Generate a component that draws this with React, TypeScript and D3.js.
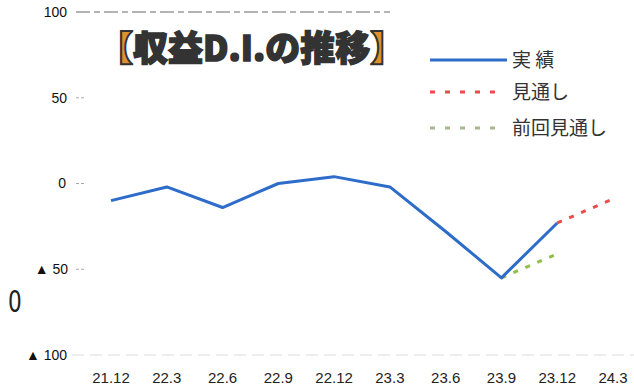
import React from "react";
import * as d3 from "d3";

const categories = ["21.12", "22.3", "22.6", "22.9", "22.12", "23.3", "23.6", "23.9", "23.12", "24.3"];
const actual = [-10, -2, -14, 0, 4, -2, -28, -55, -23];
const forecastCats = ["23.12", "24.3"];
const forecast = [-23, -9];
const prevForecastCats = ["23.9", "23.12"];
const prevForecast = [-55, -41];
const yTicks = [100, 50, 0, -50, -100];
const yTickLabels = ["100", "50", "0", "▲ 50", "▲ 100"];
const legendLabels = ["実 績", "見通し", "前回見通し"];
const title = "収益D.I.の推移";

const W = 634;
const H = 390;

export default function App() {
  const x = d3.scalePoint<string>().domain(categories).range([111, 613]);
  const y = d3.scaleLinear().domain([-100, 100]).range([355, 12]);
  const line = d3
    .line<[string, number]>()
    .x((d) => x(d[0]) as number)
    .y((d) => y(d[1]));

  const actualPts = actual.map((v, i) => [categories[i], v] as [string, number]);
  const fcPts = forecast.map((v, i) => [forecastCats[i], v] as [string, number]);
  const pfPts = prevForecast.map((v, i) => [prevForecastCats[i], v] as [string, number]);

  const labelRight = [67, 67, 66, 68, 67];
  const jp = "'Noto Sans CJK JP', 'Liberation Sans', sans-serif";
  const sans = "'Liberation Sans', Arial, sans-serif";

  return (
    <svg width={W} height={H} style={{ position: "absolute", left: 0, top: 0, background: "#fff" }}>
      {/* gridlines */}
      <line x1={76} x2={390} y1={y(100)} y2={y(100)} stroke="#666" strokeWidth={1} strokeDasharray="14 4 6 4" />
      <line x1={72} x2={634} y1={y(-100)} y2={y(-100)} stroke="#ddd" strokeWidth={1} strokeDasharray="12 6" />
      {[50, 0, -50].map((t) => (
        <line key={t} x1={76} x2={86} y1={y(t)} y2={y(t)} stroke="#aaa" strokeWidth={1} strokeDasharray="3 2" />
      ))}
      {/* y labels */}
      {yTicks.map((t, i) => (
        <text
          key={t}
          x={labelRight[i]}
          y={y(t)}
          dy="0.35em"
          textAnchor="end"
          fontFamily={sans}
          fontSize={14}
          fill="#111"
        >
          {yTickLabels[i]}
        </text>
      ))}
      {/* stray large zero */}
      <text x={8} y={312} fontFamily="'DejaVu Sans Condensed', 'Liberation Sans Narrow', sans-serif" fontSize={30} fill="#222" transform="scale(0.8,1)" style={{ transformOrigin: "8px 312px" }}>
        0
      </text>
      {/* x labels */}
      {categories.map((c) => (
        <text
          key={c}
          x={x(c) as number}
          y={378}
          dy="0.35em"
          textAnchor="middle"
          fontFamily={sans}
          fontSize={15}
          fill="#222"
        >
          {c}
        </text>
      ))}
      {/* lines */}
      <path d={line(pfPts) ?? ""} fill="none" stroke="#8fbf4a" strokeWidth={3} strokeDasharray="5 8" />
      <path d={line(fcPts) ?? ""} fill="none" stroke="#ea4b4b" strokeWidth={3} strokeDasharray="5 8" />
      <path d={line(actualPts) ?? ""} fill="none" stroke="#2d6cc9" strokeWidth={3} strokeLinejoin="round" />
      {/* title */}
      <text x={98} y={61} fontFamily={jp} fontWeight={900} fontSize={35} fill="#333" stroke="#333" strokeWidth={1.5}>
        <tspan fill="#e0902e" stroke="#333" strokeWidth={2}>【</tspan>
        <tspan>{title}</tspan>
        <tspan fill="#e0902e" stroke="#333" strokeWidth={2}>】</tspan>
      </text>
      {/* legend */}
      <line x1={430} x2={507} y1={60} y2={60} stroke="#2d6cc9" strokeWidth={3} />
      <line x1={430} x2={500} y1={92} y2={92} stroke="#ea4b4b" strokeWidth={3} strokeDasharray="5 10" />
      <line x1={430} x2={500} y1={128} y2={128} stroke="#a8b890" strokeWidth={3} strokeDasharray="5 10" />
      {legendLabels.map((l, i) => (
        <text key={l} x={512} y={[60, 92, 128][i]} dy="0.35em" fontFamily={jp} fontSize={19} fill="#333">
          {l}
        </text>
      ))}
    </svg>
  );
}
